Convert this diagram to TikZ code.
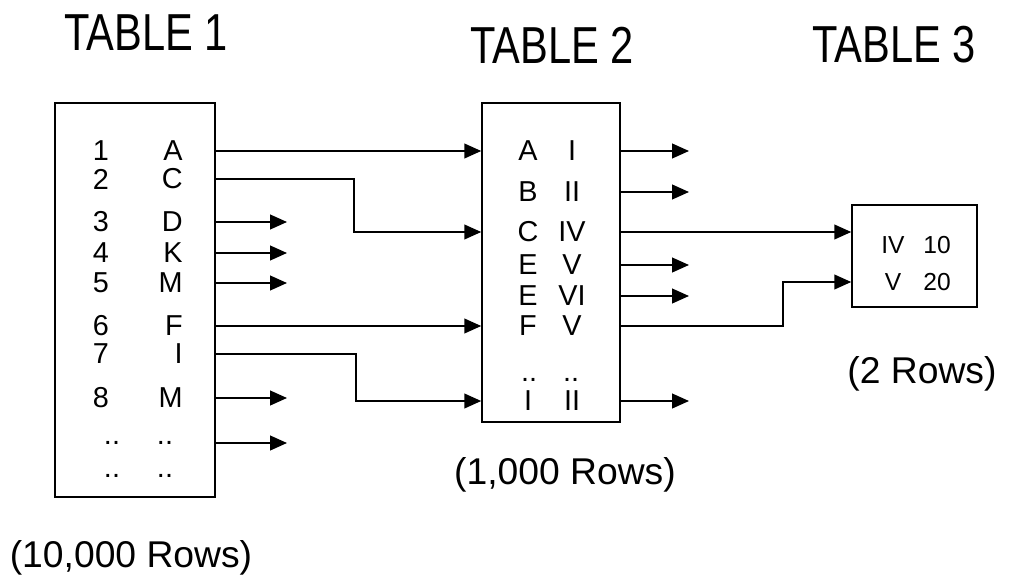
\documentclass[tikz,border=0pt]{standalone}
\usepackage{fontspec}
\setmainfont{Liberation Sans}
\newfontfamily\titlefont[FakeStretch=0.8]{Liberation Sans}
\usetikzlibrary{arrows.meta, positioning, calc}

\begin{document}
\begin{tikzpicture}[
    x=0.025cm, y=-0.025cm,
    tablebox/.style={draw, line width=1.1pt, inner sep=0pt},
    title/.style={font=\titlefont\fontsize{37}{40}\selectfont, inner sep=0pt},
    rowcount/.style={font=\fontsize{26.5}{30}\selectfont, inner sep=0pt},
    entry/.style={font=\fontsize{20.5}{23}\selectfont, inner sep=0pt},
    small entry/.style={font=\fontsize{17.5}{20}\selectfont, inner sep=0pt},
    flow/.style={-{Triangle[length=12pt, width=10.5pt]}, line width=1.1pt}
]
\useasboundingbox[fill=white] (0,0) rectangle (1010,583);

% titles and row counts
\node[title] (title1) at (146,33) {TABLE 1};
\node[title] (title2) at (552,45) {TABLE 2};
\node[title] (title3) at (894,45) {TABLE 3};
\node[rowcount] (count1) at (131,558) {(10,000 Rows)};
\node[rowcount] (count2) at (565,475) {(1,000 Rows)};
\node[rowcount] (count3) at (922,374) {(2 Rows)};

% the three tables
\node[tablebox, minimum width=4cm, minimum height=9.85cm] (t1) at (135,300) {};
\node[tablebox, minimum width=3.45cm, minimum height=7.975cm] (t2) at (551,262.5) {};
\node[tablebox, minimum width=3.125cm, minimum height=2.55cm] (t3) at (914.5,256) {};

% table 1 rows
\node[entry] (n1) at (101,151) {1};
\node[entry] (n2) at (101,179) {2};
\node[entry] (n3) at (101,222) {3};
\node[entry] (n4) at (101,253) {4};
\node[entry] (n5) at (101,283) {5};
\node[entry] (n6) at (101,326) {6};
\node[entry] (n7) at (101,354) {7};
\node[entry] (n8) at (101,398) {8};
\node[entry, anchor=east] (k1) at (183,151) {A};
\node[entry, anchor=east] (k2) at (183,179) {C};
\node[entry, anchor=east] (k3) at (183,222) {D};
\node[entry, anchor=east] (k4) at (183,253) {K};
\node[entry, anchor=east] (k5) at (183,283) {M};
\node[entry, anchor=east] (k6) at (183,326) {F};
\node[entry, anchor=east] (k7) at (183,354) {I};
\node[entry, anchor=east] (k8) at (183,398) {M};
\node[entry] (nd1) at (112,443) {..};
\node[entry] (kd1) at (165,443) {..};
\node[entry] (nd2) at (112,476) {..};
\node[entry] (kd2) at (165,476) {..};

% table 2 rows
\node[entry] (a1) at (528,151) {A};
\node[entry] (a2) at (528,192) {B};
\node[entry] (a3) at (528,232) {C};
\node[entry] (a4) at (528,265) {E};
\node[entry] (a5) at (528,296) {E};
\node[entry] (a6) at (528,326) {F};
\node[entry] (ad) at (529,380) {..};
\node[entry] (a7) at (528,401) {I};
\node[entry] (b1) at (572,151) {I};
\node[entry] (b2) at (572,192) {II};
\node[entry] (b3) at (572,232) {IV};
\node[entry] (b4) at (572,265) {V};
\node[entry] (b5) at (572,296) {VI};
\node[entry] (b6) at (572,326) {V};
\node[entry] (bd) at (571,380) {..};
\node[entry] (b7) at (572,401) {II};

% table 3 rows
\node[small entry] (c1) at (893,245) {IV};
\node[small entry] (c2) at (893,282) {V};
\node[small entry] (d1) at (937,245) {10};
\node[small entry] (d2) at (937,282) {20};

% ends and bends of the connectors
\coordinate (out1) at (287,0);
\coordinate (out2) at (689,0);
\coordinate (bendC) at (354,0);
\coordinate (bendI) at (356,0);
\coordinate (bendV) at (783,0);

% table 1 to table 2
\draw[flow] (t1.east |- k1) -- (t2.west |- a1);
\draw[flow] (t1.east |- k2) -| (bendC |- a3) -- (t2.west |- a3);
\draw[flow] (t1.east |- k6) -- (t2.west |- a6);
\draw[flow] (t1.east |- k7) -| (bendI |- a7) -- (t2.west |- a7);
\draw[flow] (t1.east |- k3) -- (out1 |- k3);
\draw[flow] (t1.east |- k4) -- (out1 |- k4);
\draw[flow] (t1.east |- k5) -- (out1 |- k5);
\draw[flow] (t1.east |- k8) -- (out1 |- k8);
\draw[flow] (t1.east |- kd1) -- (out1 |- kd1);

% table 2 to table 3
\draw[flow] (t2.east |- b3) -- (t3.west |- b3);
\draw[flow] (t2.east |- b6) -| (bendV |- c2) -- (t3.west |- c2);
\draw[flow] (t2.east |- b1) -- (out2 |- b1);
\draw[flow] (t2.east |- b2) -- (out2 |- b2);
\draw[flow] (t2.east |- b4) -- (out2 |- b4);
\draw[flow] (t2.east |- b5) -- (out2 |- b5);
\draw[flow] (t2.east |- b7) -- (out2 |- b7);
\end{tikzpicture}
\end{document}
